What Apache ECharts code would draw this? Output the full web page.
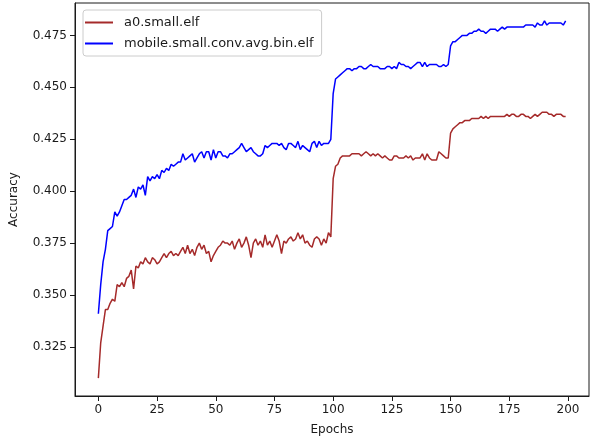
<!DOCTYPE html>
<html>
<head>
<meta charset="utf-8">
<script src="https://cdn.jsdelivr.net/npm/echarts@6/dist/echarts.min.js"></script>
<style>
  html, body { margin: 0; padding: 0; background: #fff; }
  #chart { width: 590px; height: 441px; }
</style>
</head>
<body>
<div id="chart"></div>
<script>
const seriesNames = ['a0.small.elf', 'mobile.small.conv.avg.bin.elf']

const a0Small = [
  0.310, 0.327, 0.335, 0.343, 0.343, 0.346, 0.348, 0.347, 0.355, 0.354,
  0.356, 0.354, 0.358, 0.359, 0.362, 0.353, 0.364, 0.363, 0.366, 0.365,
  0.368, 0.366, 0.365, 0.368, 0.367, 0.365, 0.366, 0.368, 0.370, 0.368,
  0.370, 0.371, 0.369, 0.370, 0.369, 0.371, 0.373, 0.370, 0.374, 0.370,
  0.372, 0.369, 0.373, 0.375, 0.372, 0.374, 0.370, 0.371, 0.366, 0.369,
  0.371, 0.373, 0.374, 0.376, 0.375, 0.375, 0.374, 0.376, 0.372, 0.375,
  0.377, 0.373, 0.375, 0.378, 0.374, 0.368, 0.375, 0.377, 0.374, 0.376,
  0.373, 0.379, 0.374, 0.376, 0.373, 0.376, 0.379, 0.376, 0.370, 0.376,
  0.375, 0.377, 0.378, 0.376, 0.377, 0.380, 0.377, 0.379, 0.375, 0.376,
  0.374, 0.373, 0.377, 0.378, 0.377, 0.374, 0.377, 0.375, 0.380, 0.378,
  0.406, 0.412, 0.413, 0.416, 0.417, 0.417, 0.417, 0.417, 0.418, 0.418,
  0.418, 0.418, 0.417, 0.418, 0.419, 0.418, 0.417, 0.418, 0.417, 0.418,
  0.417, 0.416, 0.417, 0.416, 0.415, 0.415, 0.417, 0.417, 0.416, 0.416,
  0.416, 0.417, 0.416, 0.417, 0.415, 0.416, 0.416, 0.416, 0.418, 0.415,
  0.418, 0.416, 0.415, 0.415, 0.415, 0.419, 0.418, 0.417, 0.416, 0.416,
  0.428, 0.430, 0.431, 0.432, 0.433, 0.433, 0.434, 0.434, 0.434, 0.435,
  0.435, 0.435, 0.435, 0.436, 0.435, 0.436, 0.435, 0.436, 0.436, 0.436,
  0.436, 0.436, 0.436, 0.436, 0.437, 0.436, 0.437, 0.437, 0.436, 0.436,
  0.437, 0.437, 0.436, 0.436, 0.435, 0.436, 0.437, 0.436, 0.437, 0.438,
  0.438, 0.438, 0.437, 0.437, 0.436, 0.437, 0.437, 0.437, 0.436, 0.436
]

const mobileSmall = [
  0.341, 0.355, 0.366, 0.372, 0.381, 0.382, 0.383, 0.390, 0.388, 0.390,
  0.393, 0.396, 0.396, 0.397, 0.398, 0.401, 0.397, 0.402, 0.401, 0.403,
  0.398, 0.407, 0.405, 0.407, 0.406, 0.408, 0.406, 0.410, 0.409, 0.411,
  0.410, 0.413, 0.412, 0.413, 0.414, 0.414, 0.418, 0.415, 0.416, 0.417,
  0.418, 0.414, 0.416, 0.418, 0.419, 0.416, 0.419, 0.419, 0.415, 0.420,
  0.416, 0.419, 0.419, 0.417, 0.417, 0.416, 0.418, 0.418, 0.419, 0.420,
  0.421, 0.423, 0.421, 0.419, 0.420, 0.421, 0.419, 0.418, 0.417, 0.417,
  0.418, 0.422, 0.421, 0.422, 0.423, 0.423, 0.423, 0.422, 0.423, 0.421,
  0.420, 0.423, 0.423, 0.422, 0.421, 0.424, 0.420, 0.422, 0.421, 0.420,
  0.419, 0.423, 0.424, 0.421, 0.424, 0.422, 0.423, 0.423, 0.423, 0.425,
  0.447, 0.454, 0.455, 0.456, 0.457, 0.458, 0.459, 0.459, 0.458, 0.459,
  0.459, 0.460, 0.460, 0.459, 0.459, 0.460, 0.461, 0.460, 0.460, 0.460,
  0.459, 0.459, 0.459, 0.460, 0.460, 0.459, 0.460, 0.459, 0.462, 0.461,
  0.461, 0.460, 0.460, 0.459, 0.460, 0.461, 0.462, 0.462, 0.460, 0.462,
  0.460, 0.461, 0.461, 0.461, 0.461, 0.460, 0.460, 0.461, 0.460, 0.461,
  0.470, 0.472, 0.472, 0.473, 0.474, 0.475, 0.475, 0.475, 0.476, 0.476,
  0.477, 0.477, 0.478, 0.477, 0.477, 0.476, 0.477, 0.478, 0.478, 0.478,
  0.477, 0.478, 0.479, 0.478, 0.479, 0.479, 0.479, 0.479, 0.479, 0.479,
  0.479, 0.479, 0.480, 0.480, 0.480, 0.480, 0.479, 0.481, 0.480, 0.480,
  0.482, 0.480, 0.481, 0.481, 0.481, 0.481, 0.481, 0.481, 0.480, 0.482
]

const xTicks = [0, 25, 50, 75, 100, 125, 150, 175, 200]
const yTicks = [0.325, 0.350, 0.375, 0.400, 0.425, 0.450, 0.475]

const chart = echarts.init(document.getElementById('chart'))

const font = 'DejaVu Sans'
const ink = '#1a1a1a'

const axisCommon = {
  type: 'value',
  splitLine: { show: false },
  axisLine: { show: true, onZero: false, lineStyle: { color: ink, width: 1 } },
  axisTick: { show: true, length: 5, lineStyle: { color: ink } },
  nameTextStyle: { color: ink, fontFamily: font, fontSize: 12 }
}

const option = {
  animation: false,
  backgroundColor: '#fff',
  textStyle: { fontFamily: font },
  grid: {
    left: 75, right: 1, top: 3, bottom: 45,
    show: true, borderColor: ink, borderWidth: 1
  },
  legend: {
    orient: 'vertical',
    left: 83,
    top: 10,
    padding: [6, 8, 6, 2],
    itemGap: 8,
    itemWidth: 28,
    itemHeight: 2,
    icon: 'rect',
    backgroundColor: 'rgba(255,255,255,0.8)',
    borderColor: '#cccccc',
    borderWidth: 1,
    borderRadius: 3,
    textStyle: { color: ink, fontFamily: font, fontSize: 13, padding: [0, 0, 0, 6] },
    data: seriesNames
  },
  xAxis: {
    ...axisCommon,
    min: -9.95,
    max: 208.95,
    name: 'Epochs',
    nameLocation: 'middle',
    nameGap: 28,
    axisTick: { ...axisCommon.axisTick, customValues: xTicks },
    axisLabel: {
      customValues: xTicks,
      color: ink, fontFamily: font, fontSize: 12, margin: 8
    }
  },
  yAxis: {
    ...axisCommon,
    min: 0.3014,
    max: 0.4906,
    name: 'Accuracy',
    nameLocation: 'middle',
    nameGap: 55,
    axisTick: { ...axisCommon.axisTick, customValues: yTicks },
    axisLabel: {
      customValues: yTicks,
      color: ink, fontFamily: font, fontSize: 12, margin: 8,
      formatter: v => v.toFixed(3)
    }
  },
  series: [
    {
      name: seriesNames[0],
      type: 'line',
      symbol: 'none',
      data: a0Small.map((v, i) => [i, v]),
      lineStyle: { color: '#a52a2a', width: 1.5 },
      itemStyle: { color: '#a52a2a' }
    },
    {
      name: seriesNames[1],
      type: 'line',
      symbol: 'none',
      data: mobileSmall.map((v, i) => [i, v]),
      lineStyle: { color: '#0000ff', width: 1.5 },
      itemStyle: { color: '#0000ff' }
    }
  ]
}

chart.setOption(option)
</script>
</body>
</html>
